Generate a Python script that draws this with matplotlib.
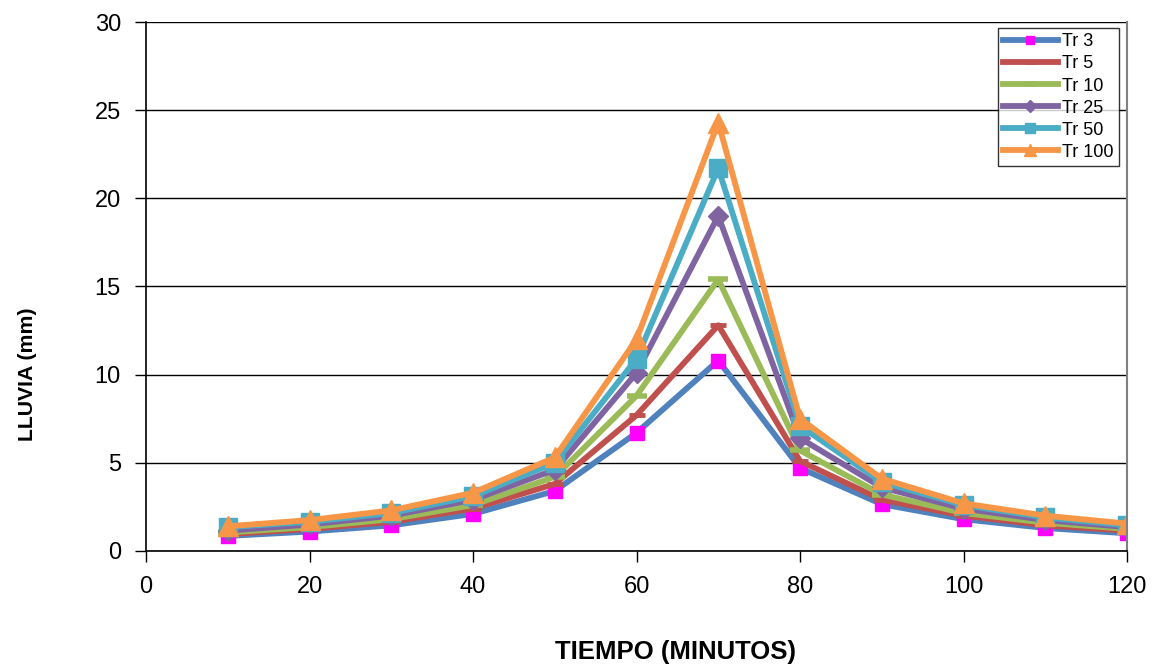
import numpy as np
import matplotlib
matplotlib.use('Agg')
import matplotlib.pyplot as plt

plt.rcParams['font.family'] = ['Liberation Sans', 'DejaVu Sans']

# tiempo (minutos)
tiempo = [10, 20, 30, 40, 50, 60, 70, 80, 90, 100, 110, 120]

# lluvia (mm) por periodo de retorno
tr3 = [0.85, 1.1, 1.45, 2.1, 3.4, 6.7, 10.8, 4.7, 2.65, 1.8, 1.3, 1.0]
tr5 = [0.95, 1.25, 1.65, 2.4, 3.8, 7.7, 12.8, 5.1, 2.9, 2.0, 1.45, 1.15]
tr10 = [1.05, 1.35, 1.8, 2.6, 4.2, 8.8, 15.4, 5.7, 3.2, 2.15, 1.6, 1.25]
tr25 = [1.15, 1.5, 2.0, 2.9, 4.6, 10.1, 19.0, 6.4, 3.6, 2.4, 1.75, 1.35]
tr50 = [1.35, 1.65, 2.15, 3.1, 5.0, 10.9, 21.7, 7.1, 3.9, 2.6, 1.9, 1.45]
tr100 = [1.4, 1.75, 2.3, 3.3, 5.3, 12.0, 24.3, 7.5, 4.1, 2.7, 2.0, 1.55]

etiquetas = ['Tr 3', 'Tr 5', 'Tr 10', 'Tr 25', 'Tr 50', 'Tr 100']

fig = plt.figure(figsize=(11.55, 6.67), dpi=100)
ax = fig.add_axes([0.1264, 0.174, 0.8494, 0.793])

lw = 4.2
# Tr 3: linea azul con cuadros magenta
ax.plot(tiempo, tr3, '-', color='#4F81BD', lw=lw, marker='s', ms=10,
        mfc='#FF00FF', mec='#FF00FF', label=etiquetas[0])
ax.plot(tiempo, tr5, '-', color='#C0504D', lw=lw, marker='_', ms=12,
        mew=3.5, label=etiquetas[1])
ax.plot(tiempo, tr10, '-', color='#9BBB59', lw=lw, marker='_', ms=14,
        mew=4, label=etiquetas[2])
ax.plot(tiempo, tr25, '-', color='#8064A2', lw=lw, marker='D', ms=10,
        label=etiquetas[3])
ax.plot(tiempo, tr50, '-', color='#4BACC6', lw=lw, marker='s', ms=13,
        label=etiquetas[4])
ax.plot(tiempo, tr100, '-', color='#F79646', lw=lw, marker='^', ms=15,
        label=etiquetas[5])

ax.set_xlim(0, 120)
ax.set_ylim(0, 30)
ax.set_xticks(np.arange(0, 121, 20))
ax.set_yticks(np.arange(0, 31, 5))
ax.grid(axis='y', color='black', lw=1)
ax.set_axisbelow(True)
ax.tick_params(labelsize=17, length=8, width=1, direction='out', pad=10)

ax.spines['top'].set_visible(False)
ax.spines['right'].set_color('#808080')
ax.spines['right'].set_linewidth(1.5)
ax.spines['left'].set_linewidth(1.2)
ax.spines['bottom'].set_linewidth(1.2)

ax.set_xlabel('TIEMPO (MINUTOS)', fontsize=18.5, fontweight='bold')
ax.set_ylabel('LLUVIA (mm)', fontsize=15.3, fontweight='bold')
ax.xaxis.set_label_coords(0.54, -0.168)
ax.yaxis.set_label_coords(-0.111, 0.335)

leg = ax.legend(loc='upper right', bbox_to_anchor=(0.9918, 0.9887), fontsize=13,
                frameon=True, fancybox=False, edgecolor='black',
                handlelength=3.0, handletextpad=0.25, labelspacing=0.28,
                borderpad=0.3, borderaxespad=0.0, markerscale=0.6)
leg.get_frame().set_linewidth(1)

fig.savefig('out.png', dpi=100)
